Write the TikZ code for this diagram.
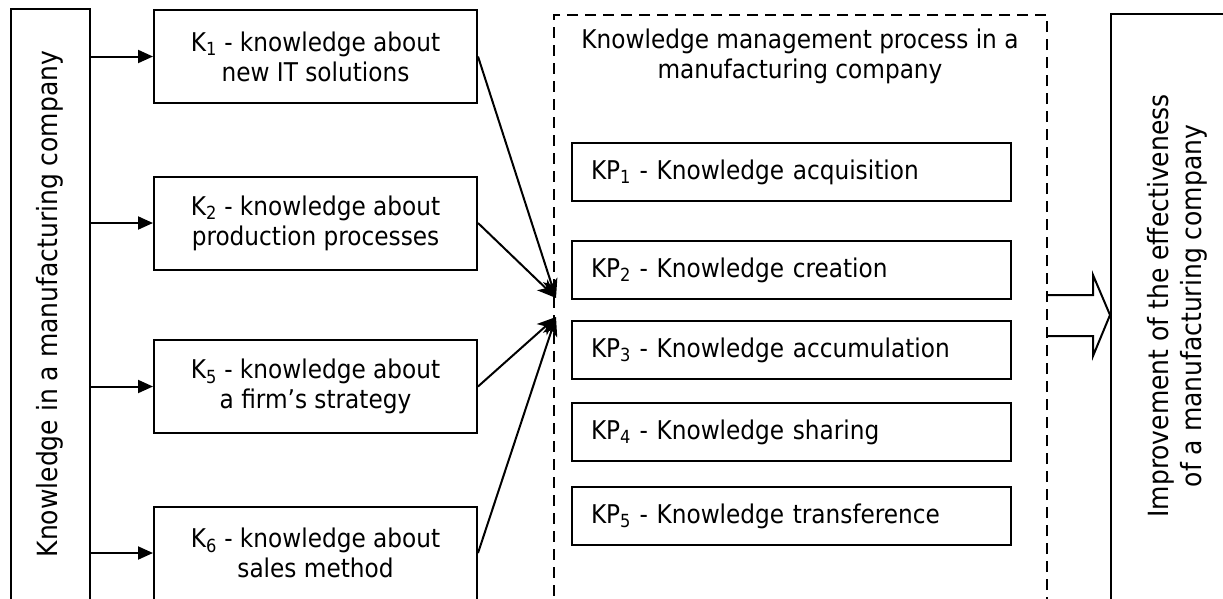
\documentclass[tikz,border=0pt]{standalone}
\usepackage{fontspec}
\setmainfont{DejaVu Sans Condensed}
\usetikzlibrary{arrows.meta}

\tikzset{
    box/.style={draw, line width=2, inner sep=0pt},
    kbox/.style={box, minimum width=323, minimum height=93, align=center},
    kpbox/.style={box, text width=401, inner xsep=19, minimum height=58, align=left},
    sidetext/.style={rotate=90, align=center, font=\fontsize{27.8}{33}\selectfont},
    arr/.style={line width=2, -{Triangle[length=15,width=13]}},
    conv/.style={line width=2, -{Stealth[length=19,width=15,inset=5]}}
}

\begin{document}
\begin{tikzpicture}[x=1pt,y=1pt,yscale=-1,xscale=1]
        \useasboundingbox (0,0) rectangle (1223,598);
        \clip (0,0) rectangle (1223,598);
        \fontsize{25.8}{30}\selectfont

        % Knowledge source
        \node [box, minimum width=79, minimum height=640, anchor=north west] (src) at (10,8) {};
        \node [sidetext] (srctext) at (50,304) {Knowledge in a manufacturing company};

        % Knowledge areas
        \node [kbox] (k1) at (315.5,56.5) {K\textsubscript{1} - knowledge about\\new IT solutions};
        \node [kbox] (k2) at (315.5,223) {K\textsubscript{2} - knowledge about\\production processes};
        \node [kbox] (k5) at (315.5,386.5) {K\textsubscript{5} - knowledge about\\a firm’s strategy};
        \node [kbox] (k6) at (315.5,553) {K\textsubscript{6} - knowledge about\\sales method};

        \foreach \k in {k1,k2,k5,k6}
            \draw [arr] (src.east |- \k.west) -- (\k.west);

        % Knowledge management process
        \node [box, dashed, dash pattern=on 11 off 7, minimum width=493, minimum height=640, anchor=north west] (kmp) at (553,14) {};
        \node [align=center] (kmptitle) at (800,56) {Knowledge management process in a\\manufacturing company};

        \node [kpbox, anchor=north west] (kp1) at (571,142) {KP\textsubscript{1} - Knowledge acquisition};
        \node [kpbox, anchor=north west] (kp2) at (571,240) {KP\textsubscript{2} - Knowledge creation};
        \node [kpbox, anchor=north west] (kp3) at (571,320) {KP\textsubscript{3} - Knowledge accumulation};
        \node [kpbox, anchor=north west] (kp4) at (571,402) {KP\textsubscript{4} - Knowledge sharing};
        \node [kpbox, anchor=north west] (kp5) at (571,486) {KP\textsubscript{5} - Knowledge transference};

        % Converging arrows
        \coordinate (in1) at (556,298);
        \coordinate (in2) at (556,317);
        \draw [conv] (k1.east) -- (in1);
        \draw [conv] (k2.east) -- (in1);
        \draw [conv] (k5.east) -- (in2);
        \draw [conv] (k6.east) -- (in2);

        % Result
        \node [box, minimum width=140, minimum height=640, anchor=north west] (res) at (1110,13) {};
        \node [sidetext] (restext) at (1177,306) {Improvement of the effectiveness\\of a manufacturing company};

        % Hollow arrow
        \draw [line width=2, line join=miter] (kmp.east |- 0,295) -- (1093,295) -- (1093,275) -- (res.west |- 0,315) -- (1093,356) -- (1093,336) -- (kmp.east |- 0,336);

\end{tikzpicture}
\end{document}
